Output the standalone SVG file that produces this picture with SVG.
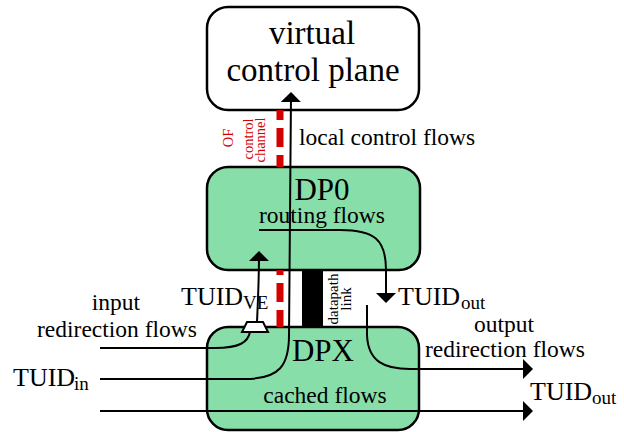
<svg xmlns="http://www.w3.org/2000/svg" width="624" height="432" viewBox="0 0 624 432" font-family="'Liberation Serif', 'DejaVu Serif', serif">
<style>
text{font-family:'Liberation Serif','DejaVu Serif',serif;fill:#000}
.box{fill:#fff;stroke:#000;stroke-width:2.5}
.green{fill:#88dea9;stroke:#000;stroke-width:2.5}
.big{font-size:33px;text-anchor:middle}
.name{font-size:31px;text-anchor:middle}
.lbl{font-size:23.5px}
.mid{text-anchor:middle}
.tuid{font-size:26px}
.sub{font-size:19px}
.small{font-size:14.5px;text-anchor:middle}
.red{fill:#d40000}
.flow{fill:none;stroke:#000;stroke-width:2}
.of{fill:none;stroke:#d40000;stroke-width:7}
</style>
<defs>
<marker id="ah" viewBox="0 0 10 20" refX="7" refY="10" markerWidth="10" markerHeight="20" markerUnits="userSpaceOnUse" orient="auto">
<path d="M0,0 L10,10 L0,20 z" fill="#000"/>
</marker>
</defs>

<g id="vcp">
<rect class="box" x="207" y="7" width="212" height="103" rx="21"/>
<text class="big" x="312" y="44">virtual</text>
<text class="big" x="313" y="81">control plane</text>
</g>

<g id="dp0">
<rect class="green" x="207" y="167" width="213" height="103" rx="21"/>
<text class="name" x="322" y="200">DP0</text>
<text class="lbl mid" x="322" y="223">routing flows</text>
</g>

<g id="dpx">
<rect class="green" x="207" y="327" width="212" height="103" rx="21"/>
<text class="name" x="323" y="361">DPX</text>
<text class="lbl mid" x="325" y="403">cached flows</text>
</g>

<g id="of-channel">
<line class="of" x1="280" y1="110" x2="280" y2="167" stroke-dasharray="19 8" stroke-dashoffset="9"/>
<line class="of" x1="280" y1="270" x2="280" y2="327" stroke-dasharray="19 8" stroke-dashoffset="14"/>
<text class="small red" transform="translate(233,138) rotate(-90)">OF</text>
<text class="small red" transform="translate(253,139) rotate(-90)">control</text>
<text class="small red" transform="translate(265,140) rotate(-90)">channel</text>
</g>

<g id="datapath-link">
<rect x="302" y="270" width="21" height="57" fill="#000"/>
<text class="small" style="font-size:15px" transform="translate(338,299) rotate(-90)">datapath</text>
<text class="small" style="font-size:15px" transform="translate(351,299) rotate(-90)">link</text>
</g>

<g id="connectors">
<path class="flow" d="M100 379 H245 C280 379 289 365 289 335 L291 95" marker-end="url(#ah)"/>
<path class="flow" d="M100 348 H215 C240 348 248 342 250 332"/>
<path class="flow" d="M257 322 C258 300 259 280 259 254" marker-end="url(#ah)"/>
<path class="flow" d="M259 230 H340 C375 230 386 240 386 270 V300" marker-end="url(#ah)"/>
<path class="flow" d="M367 305 V335 C368 362 385 369 410 369 H530" marker-end="url(#ah)"/>
<path class="flow" d="M100 411 H530" marker-end="url(#ah)"/>
<polygon points="247,322 263,322 268,332 242,332" fill="#fff" stroke="#000" stroke-width="2"/>
</g>

<g id="labels">
<text class="lbl" x="299" y="145">local control flows</text>
<text class="lbl mid" x="116" y="310">input</text>
<text class="lbl mid" x="117" y="337">redirection flows</text>
<text class="lbl mid" x="504" y="332">output</text>
<text class="lbl mid" x="505" y="357">redirection flows</text>
<text class="tuid" x="181" y="305">TUID</text><text class="sub" x="243" y="309">VE</text>
<text class="tuid" x="13" y="386">TUID</text><text class="sub" x="74" y="390">in</text>
<text class="tuid" x="398" y="305">TUID</text><text class="sub" x="461" y="309">out</text>
<text class="tuid" x="530" y="400">TUID</text><text class="sub" x="592" y="404">out</text>
</g>
</svg>
